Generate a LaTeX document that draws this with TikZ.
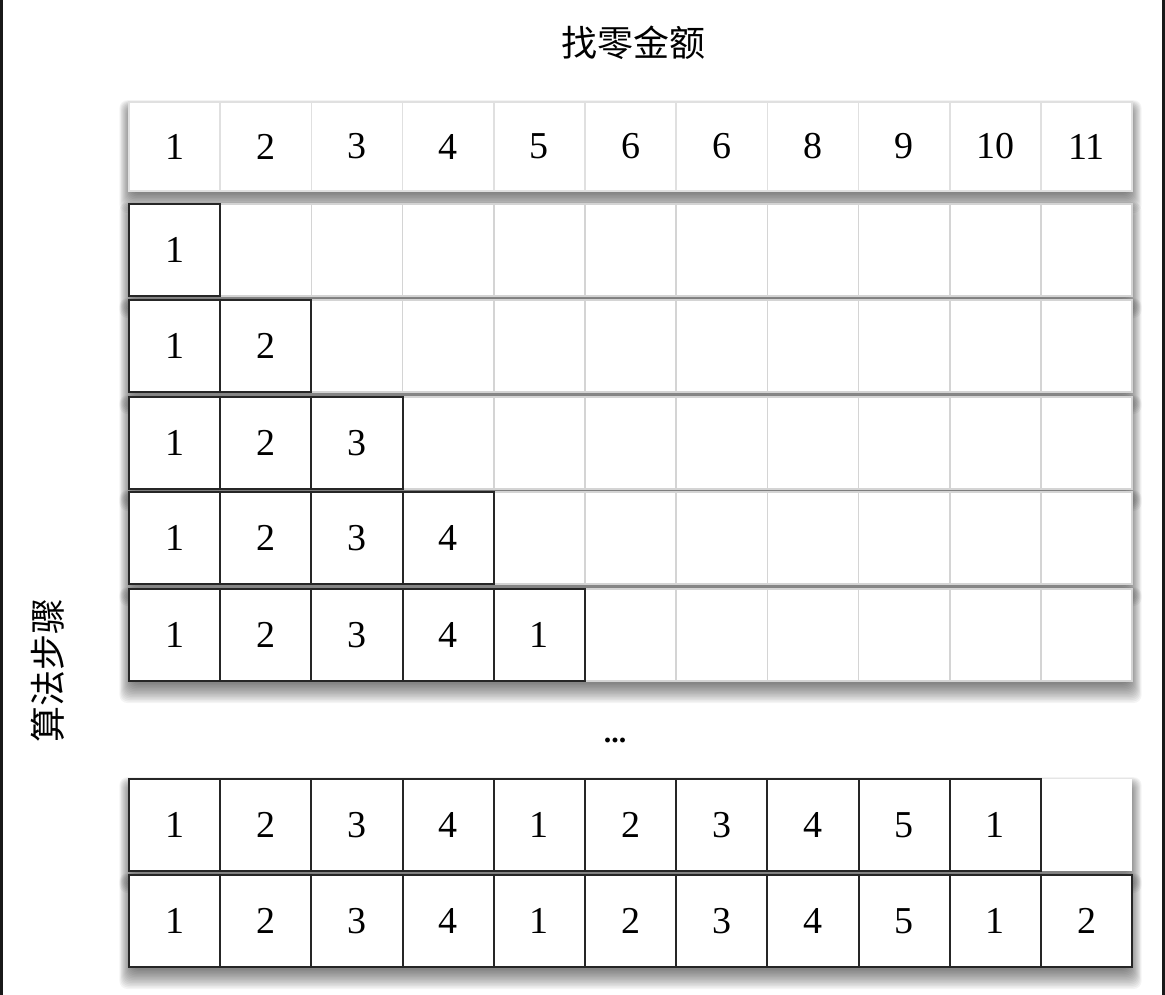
\documentclass[tikz,border=0pt]{standalone}
\usepackage{fontspec}
\setmainfont{Liberation Serif}
\newfontfamily\cjk{Noto Sans CJK SC}
\newcommand{\softshadow}[4]{%
  \foreach \k in {1,...,14}{%
    \fill[black,opacity=0.045,rounded corners=8pt]
      ({#1-\k*0.9+3},{#2+8-\k*0.7}) rectangle ({#3+\k*0.9-3},{#4+1+\k*1.5});
  }%
}
\tikzset{
  base/.style={anchor=north west, inner sep=0pt, outer sep=0pt,
    minimum width=91.2pt, font=\fontsize{38}{40}\selectfont},
  gcell/.style={base, draw=black!17, line width=1.6pt, fill=white, minimum height=92pt},
  hcell/.style={base, draw=black!12, line width=1.6pt, fill=white, minimum height=89pt},
  bcell/.style={base, draw=black!85, line width=2pt, fill=white, minimum height=92pt},
  ecell/.style={base, draw=none, fill=white, minimum height=92pt},
  title/.style={font=\cjk\fontsize{36}{40}\selectfont, inner sep=0pt},
}
\begin{document}
\begin{tikzpicture}[x=1pt,y=-1pt]
\useasboundingbox (0,0) rectangle (1165,995);
\fill[white] (0,0) rectangle (1165,995);
\fill[black!90] (0,0) rectangle (3,995);
\fill[black!90] (1162,0) rectangle (1165,995);

\node[title] (t) at (633,43) {找零金额};
\node[title, rotate=90] (s) at (48,670) {算法步骤};

% header
\softshadow{129}{102}{1132}{191}
\foreach \v [count=\c] in {1,2,3,4,5,6,6,8,9,10,11}{
  \node[hcell] (h\c) at ({129+(\c-1)*91.2},102) {\v};
}

% step rows
\foreach \top/\vals/\n [count=\r] in {204/{1}/1, 300/{1,2}/2, 397/{1,2,3}/3, 492/{1,2,3,4}/4, 589/{1,2,3,4,1}/5}{
  \softshadow{129}{\top}{1132}{\top+92}
  \foreach \c in {1,...,11}{
    \node[gcell] (g\r-\c) at ({129+(\c-1)*91.2},\top) {};
  }
  \foreach \v [count=\c] in \vals{
    \node[bcell] (r\r-\c) at ({129+(\c-1)*91.2},\top) {\v};
  }
}

\node[font=\fontsize{30}{32}\selectfont\bfseries, inner sep=0pt] (dots) at (615,740) {...};

% row A
\softshadow{129}{779}{1132}{871}
\node[ecell] (a-11) at ({129+10*91.2},779) {};
\foreach \v [count=\c] in {1,2,3,4,1,2,3,4,5,1}{
  \node[bcell] (a-\c) at ({129+(\c-1)*91.2},779) {\v};
}
% row B
\softshadow{129}{875}{1132}{967}
\foreach \v [count=\c] in {1,2,3,4,1,2,3,4,5,1,2}{
  \node[bcell] (b-\c) at ({129+(\c-1)*91.2},875) {\v};
}
\end{tikzpicture}
\end{document}
